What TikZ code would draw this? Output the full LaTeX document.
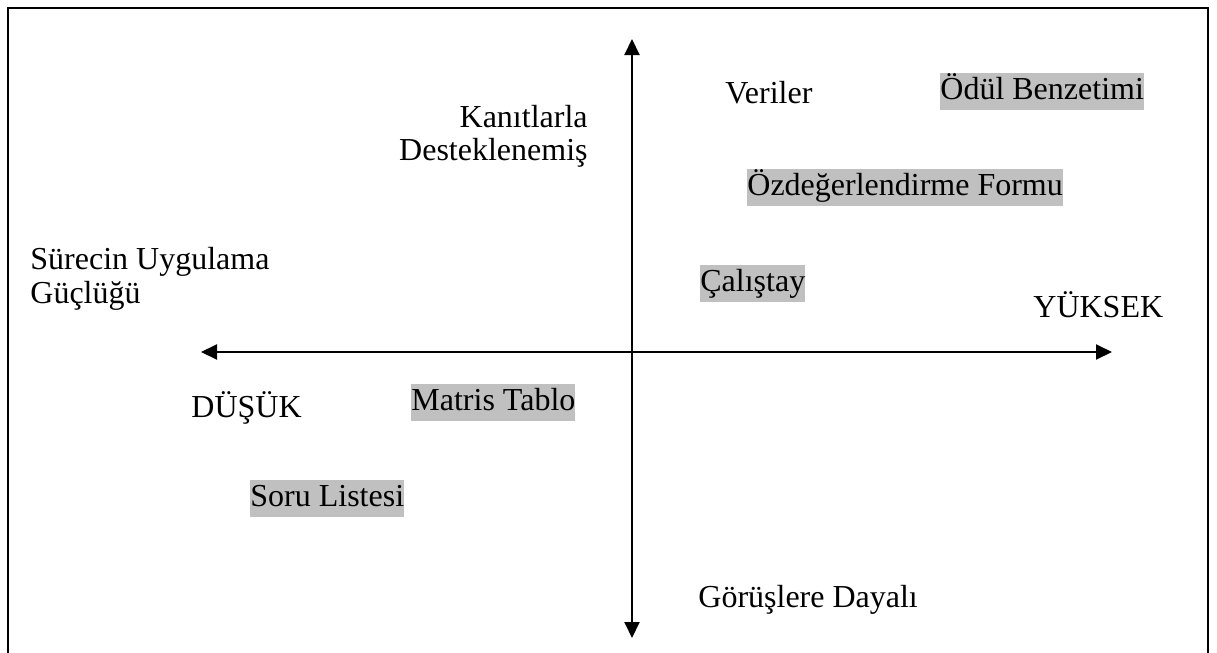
\documentclass[tikz,border=0pt]{standalone}
\usepackage{fontspec}
\setmainfont{Liberation Serif}
\usetikzlibrary{arrows.meta}
\definecolor{hl}{RGB}{192,192,192}
\begin{document}
\begin{tikzpicture}[x=0.5pt,y=-0.5pt,
  lbl/.style={inner sep=0pt,font=\fontsize{16pt}{19pt}\selectfont,text height=13pt,text depth=5.5pt},
  hlbox/.style={lbl,fill=hl},
  axis/.style={line width=1pt,{Triangle[width=7.5pt,length=8pt]}-{Triangle[width=7.5pt,length=8pt]}}]
\useasboundingbox (0,0) rectangle (1217,653);
\draw[line width=1.1pt] (8,680) -- (8,8) -- (1208,8) -- (1208,680);
\coordinate (L) at (201,352);
\coordinate (R) at (1112,352);
\coordinate (T) at (632,39);
\coordinate (B) at (632,638);
\draw[axis] (L) -- (R);
\draw[axis] (T) -- (B);
\node[lbl,anchor=base east] (k1) at (588,127) {Kanıtlarla};
\node[lbl,anchor=base east] (k2) at (588,160) {Desteklenemiş};
\node[lbl,anchor=base west] (ver) at (725,104) {Veriler};
\node[hlbox,anchor=base west] (odul) at (940,99) {Ödül Benzetimi};
\node[hlbox,anchor=base west] (ozd) at (747,195) {Özdeğerlendirme Formu};
\node[lbl,anchor=base west] (s1) at (30,269) {Sürecin Uygulama};
\node[lbl,anchor=base west] (s2) at (30,303) {Güçlüğü};
\node[hlbox,anchor=base west] (cal) at (700,291) {Çalıştay};
\node[lbl,anchor=base west] (yuk) at (1033,317) {YÜKSEK};
\node[lbl,anchor=base west] (dus) at (191,417) {DÜŞÜK};
\node[hlbox,anchor=base west] (mat) at (411,410) {Matris Tablo};
\node[hlbox,anchor=base west] (soru) at (250,506) {Soru Listesi};
\node[lbl,anchor=base west] (gor) at (698,607) {Görüşlere Dayalı};
\end{tikzpicture}
\end{document}
